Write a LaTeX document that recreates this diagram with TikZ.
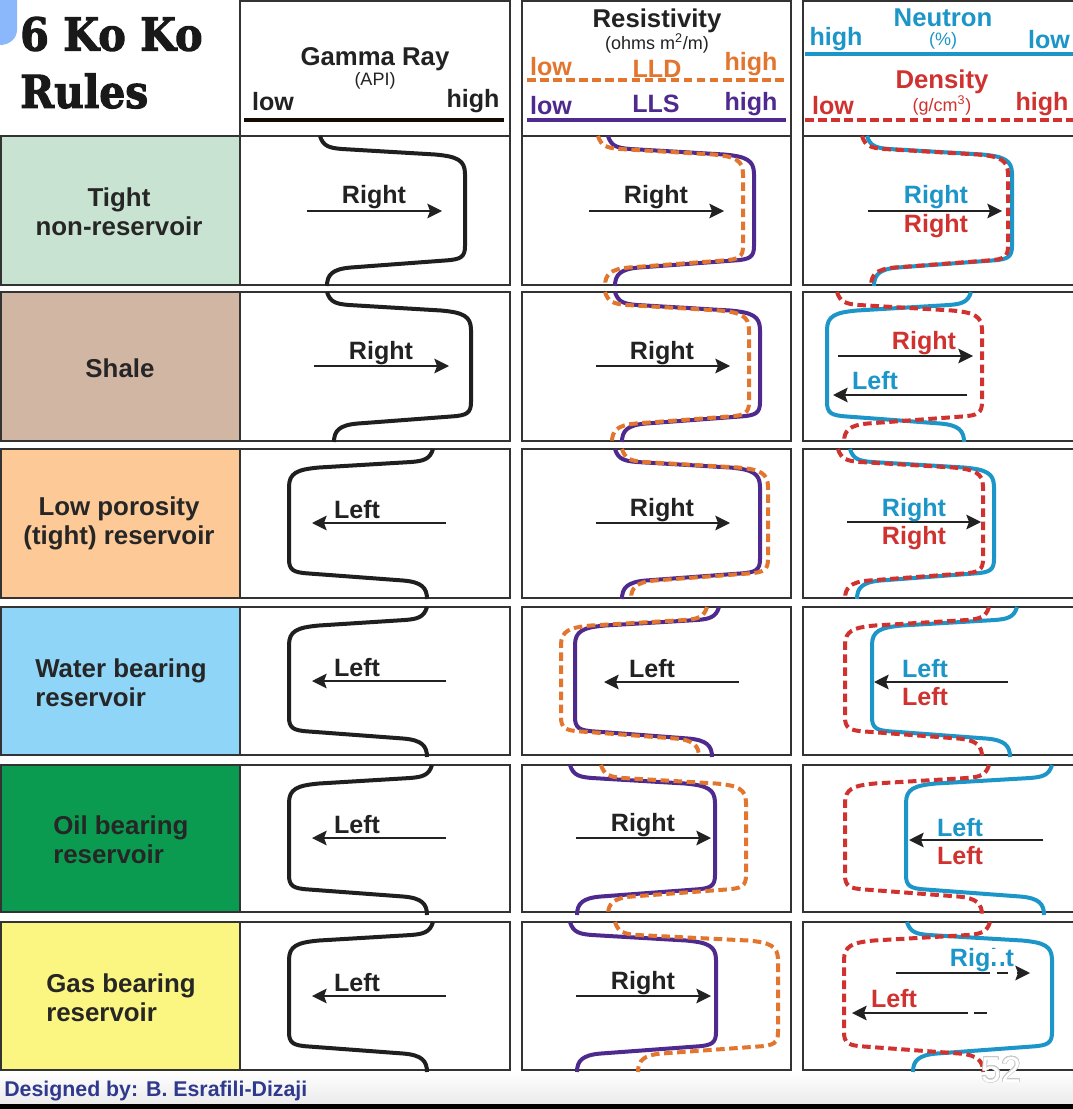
\documentclass[tikz,border=0pt]{standalone}
\usepackage{fontspec}
\setmainfont{Liberation Sans}
\newfontfamily\titlefont[BoldFeatures={FakeBold=2.5}]{DejaVu Serif}
\usetikzlibrary{arrows.meta}
\usepackage[copies]{contour}
\definecolor{cOrange}{HTML}{E2762F}
\definecolor{cPurple}{HTML}{4F2A8E}
\definecolor{cBlue}{HTML}{1C95C8}
\definecolor{cRed}{HTML}{D0322F}
\definecolor{cInk}{HTML}{222222}
\definecolor{cBorder}{HTML}{333333}
\definecolor{cNavy}{HTML}{2F3A8F}
\definecolor{fA}{HTML}{C9E3D3}
\definecolor{fB}{HTML}{D2B6A4}
\definecolor{fC}{HTML}{FCC997}
\definecolor{fD}{HTML}{8FD5F7}
\definecolor{fE}{HTML}{0A9B50}
\definecolor{fF}{HTML}{FBF582}
\definecolor{fTab}{HTML}{8AB8FB}
\tikzset{
  cellbox/.style={draw=cBorder,line width=1.6pt,fill=white},
  logline/.style={line width=3pt,line join=round},
  logdash/.style={line width=3pt,dash pattern=on 6.4pt off 3.4pt},
  gr/.style={logline,draw=black!88},
  lls/.style={logline,draw=cPurple},
  lld/.style={logdash,draw=cOrange},
  neu/.style={logline,draw=cBlue},
  den/.style={logdash,draw=cRed},
  arrowline/.style={line width=1.2pt,draw=cInk,-{Stealth[length=11pt,width=11pt,inset=2pt]}},
  plainline/.style={line width=1.2pt,draw=cInk},
  txt/.style={inner sep=0pt,yshift=-1.2pt,font=\fontsize{18.8pt}{22pt}\selectfont\bfseries,text=cInk},
  headtxt/.style={font=\fontsize{19.3pt}{22pt}\selectfont\bfseries},
  tinytxt/.style={inner sep=0pt,font=\fontsize{13.5pt}{15pt}\selectfont},
  rowlabel/.style={txt,font=\fontsize{19.4pt}{22pt}\selectfont\bfseries,text=black!85,align=center},
  rowlabell/.style={rowlabel,align=left,anchor=west}
}
% curve: style, row top, top x, middle x, bottom x
\newcommand{\logc}[5]{%
  \pgfmathsetmacro\dt{ifthenelse(#4>#3,1,-1)}%
  \pgfmathsetmacro\db{ifthenelse(#4>#5,1,-1)}%
  \draw[#1] (#3,#2) .. controls (#3+\dt*3,#2+10) and (#3+\dt*9,#2+12) .. (#3+\dt*22,#2+13)
    -- (#4-\dt*30,#2+18.5) .. controls (#4-\dt*8,#2+20.5) and (#4,#2+24) .. (#4,#2+38)
    -- (#4,#2+110) .. controls (#4,#2+121) and (#4-\db*4,#2+123.5) .. (#4-\db*20,#2+124.5)
    -- (#5+\db*24,#2+131.5) .. controls (#5+\db*5,#2+133) and (#5,#2+139) .. (#5,#2+150);}
\newcommand{\arr}[4]{%
  \coordinate (#1s) at (#2,#4); \coordinate (#1e) at (#3,#4);
  \draw[arrowline] (#1s) -- (#1e);}
\newcommand{\lbl}[5][]{\node[txt,#1] (#2) at (#3,#4) {#5};}
\newcommand{\rowcells}[3]{% top, bottom, fill
  \filldraw[cellbox,fill=#3] (1,#1) rectangle (240,#2);
  \draw[cellbox] (240,#1) rectangle (510,#2);
  \draw[cellbox] (522,#1) rectangle (791,#2);
  \draw[cellbox] (803,#1) rectangle (1078,#2);}
\begin{document}
\begin{tikzpicture}[x=0.75pt,y=-0.75pt]
\useasboundingbox (0,0) rectangle (1073,1109);
\clip (0,0) rectangle (1073,1109);
\fill[white] (0,0) rectangle (1073,1109);
% footer
\fill[top color=white,bottom color=black!8] (0,1071) rectangle (1073,1104);
\fill[black] (0,1104) rectangle (1073,1109);
% blue tab
\fill[fTab] (0,0) -- (17,0) -- (17,30) .. controls (17,38) and (10,45) .. (0,45) -- cycle;
% header cells
\draw[cellbox] (240,1) rectangle (510,136);
\draw[cellbox] (522,1) rectangle (791,136);
\draw[cellbox] (803,1) rectangle (1078,136);
% rows
\rowcells{136}{285}{fA}
\rowcells{292}{441}{fB}
\rowcells{449}{598}{fC}
\rowcells{607}{755}{fD}
\rowcells{765}{912}{fE}
\rowcells{922}{1070}{fF}
% title
\node[inner sep=0pt,anchor=west,font=\titlefont\bfseries\fontsize{34pt}{40pt}\selectfont,xscale=0.91,text=black!90] (t1) at (20,34) {6 Ko Ko};
\node[inner sep=0pt,anchor=west,font=\titlefont\bfseries\fontsize{34pt}{40pt}\selectfont,xscale=0.9,text=black!90] (t2) at (20,91) {Rules};
% gamma header
\lbl[headtxt]{gh}{375}{58}{Gamma Ray}
\node[tinytxt,text=cInk] (gu) at (375,81) {(API)};
\lbl{gl}{273}{100}{low}
\lbl{gr1}{473}{99}{high}
\coordinate (g1) at (244,120); \coordinate (g2) at (504,120);
\draw[line width=3pt,draw=black!92!orange] (g1) -- (g2);
% resistivity header
\lbl[headtxt]{rh}{657}{19}{Resistivity}
\node[tinytxt,text=cInk] (ru) at (657,43) {(ohms m\textsuperscript{2}/m)};
\lbl[text=cOrange]{rl1}{551}{65}{low}
\lbl[text=cOrange]{rm1}{657}{67}{LLD}
\lbl[text=cOrange]{rh1}{751}{62}{high}
\coordinate (ra) at (527,80); \coordinate (rb) at (786,80);
\draw[logdash,draw=cOrange] (ra) -- (rb);
\lbl[text=cPurple]{rl2}{551}{104}{low}
\lbl[text=cPurple]{rm2}{656}{102}{LLS}
\lbl[text=cPurple]{rh2}{751}{102}{high}
\coordinate (rc) at (527,120); \coordinate (rd) at (786,120);
\draw[logline,draw=cPurple] (rc) -- (rd);
% density header
\lbl[headtxt,text=cBlue]{nh}{943}{16}{Neutron}
\node[tinytxt,text=cBlue] (nu) at (943,41) {(\%)};
\lbl[text=cBlue]{nl}{836}{37}{high}
\lbl[text=cBlue]{nr}{1049}{38}{low}
\coordinate (na) at (805,54); \coordinate (nb) at (1078,54);
\draw[logline,draw=cBlue] (na) -- (nb);
\lbl[headtxt,text=cRed]{dh}{942}{80}{Density}
\node[tinytxt,text=cRed] (du) at (942,105) {(g/cm\textsuperscript{3})};
\lbl[text=cRed]{dl}{833}{104}{low}
\lbl[text=cRed]{dr}{1042}{102}{high}
\coordinate (da) at (805,120); \coordinate (db) at (1078,120);
\draw[logdash,draw=cRed] (da) -- (db);
% row labels
\node[rowlabel] (l1) at (119,210) {Tight\\non-reservoir};
\node[rowlabel] (l2) at (120,367) {Shale};
\node[rowlabel] (l3) at (119,522) {Low porosity\\(tight) reservoir};
\node[rowlabell] (l4) at (35,681) {Water bearing\\reservoir};
\node[rowlabell] (l5) at (53,838) {Oil bearing\\reservoir};
\node[rowlabell] (l6) at (46,996) {Gas bearing\\reservoir};
% gamma curves
\logc{gr}{136}{320}{465}{327}
\logc{gr}{292}{327}{471}{334}
\logc{gr}{449}{433}{289}{427}
\logc{gr}{607}{427}{289}{427}
\logc{gr}{765}{432}{289}{427}
\logc{gr}{922}{433}{289}{427}
% resistivity curves
\logc{lls}{136}{608}{754}{615}
\logc{lld}{136}{598}{743}{605}
\logc{lls}{292}{615}{760}{622}
\logc{lld}{292}{605}{749}{612}
\logc{lls}{449}{615}{760}{622}
\logc{lld}{449}{622}{768}{631}
\logc{lls}{607}{719}{575}{712}
\logc{lld}{607}{707}{561}{699}
\logc{lls}{765}{570}{715}{577}
\logc{lld}{765}{601}{746}{608}
\logc{lls}{922}{570}{716}{577}
\logc{lld}{922}{615}{778}{638}
% neutron / density curves
\logc{neu}{136}{867}{1012}{874}
\logc{den}{136}{862}{1008}{871}
\logc{neu}{292}{971}{827}{964}
\logc{den}{292}{837}{982}{844}
\logc{neu}{449}{850}{994}{857}
\logc{den}{449}{838}{983}{845}
\logc{neu}{607}{1017}{872}{1010}
\logc{den}{607}{989}{845}{982}
\logc{neu}{765}{1052}{906}{1044}
\logc{den}{765}{989}{845}{982}
\logc{neu}{922}{907}{1052}{913}
\logc{den}{922}{990}{844}{983}
% gamma arrows
\arr{a1}{307}{442}{211} \lbl{b1}{374}{195}{Right}
\arr{a2}{314}{449}{366} \lbl{b2}{381}{351}{Right}
\arr{a3}{446}{312}{523} \lbl{b3}{357}{508}{Left}
\arr{a4}{446}{312}{681} \lbl{b4}{357}{666}{Left}
\arr{a5}{446}{312}{838} \lbl{b5}{357}{823}{Left}
\arr{a6}{446}{312}{996} \lbl{b6}{357}{981}{Left}
% resistivity arrows
\arr{c1}{589}{724}{211} \lbl{d1}{656}{195}{Right}
\arr{c2}{596}{730}{366} \lbl{d2}{662}{351}{Right}
\arr{c3}{596}{730}{523} \lbl{d3}{662}{508}{Right}
\arr{c4}{739}{604}{682} \lbl{d4}{652}{667}{Left}
\arr{c5}{576}{711}{838} \lbl{d5}{643}{823}{Right}
\arr{c6}{576}{711}{996} \lbl{d6}{643}{981}{Right}
% density arrows
\arr{e1}{868}{1002}{211}
\lbl[text=cBlue]{f1}{936}{195}{Right} \lbl[text=cRed]{f1b}{936}{224}{Right}
\arr{e2}{838}{973}{356} \lbl[text=cRed]{f2}{924}{341}{Right}
\arr{e2b}{967}{833}{395} \lbl[text=cBlue]{f2b}{875}{379}{Left}
\arr{e3}{847}{981}{522}
\lbl[text=cBlue]{f3}{914}{508}{Right} \lbl[text=cRed]{f3b}{914}{536}{Right}
\arr{e4}{1008}{874}{682}
\lbl[text=cBlue]{f4}{925}{667}{Left} \lbl[text=cRed]{f4b}{925}{695}{Left}
\arr{e5}{1043}{909}{840}
\lbl[text=cBlue]{f5}{960}{826}{Left} \lbl[text=cRed]{f5b}{960}{854}{Left}
% gas row: broken arrows under a white smudge
\lbl[text=cBlue]{f6}{982}{958}{Right}
\fill[white] (990,949) rectangle (1004,962);
\coordinate (h1) at (896,973); \coordinate (h2) at (990,973);
\coordinate (h3) at (997,973); \coordinate (h4) at (1008,973);
\coordinate (h5) at (1017,973); \coordinate (h6) at (1030,973);
\draw[plainline] (h1) -- (h2);
\draw[plainline] (h3) -- (h4);
\draw[arrowline] (h5) -- (h6);
\lbl[text=cRed]{f6b}{894}{997}{Left}
\coordinate (i1) at (968,1013); \coordinate (i2) at (852,1013);
\coordinate (i3) at (987,1013); \coordinate (i4) at (974,1013);
\draw[arrowline] (i1) -- (i2);
\draw[plainline] (i3) -- (i4);
% footer text and page number
\node[inner sep=0pt,anchor=west,text=cNavy,font=\fontsize{16pt}{18pt}\selectfont\bfseries] (foot) at (4,1091) {Designed by: B. Esrafili-Dizaji};
\node[inner sep=0pt,font=\fontsize{27pt}{30pt}\selectfont,text=white] (pg) at (1001,1070) {\contourlength{0.5pt}\contour{black!22}{52}};
\end{tikzpicture}
\end{document}
